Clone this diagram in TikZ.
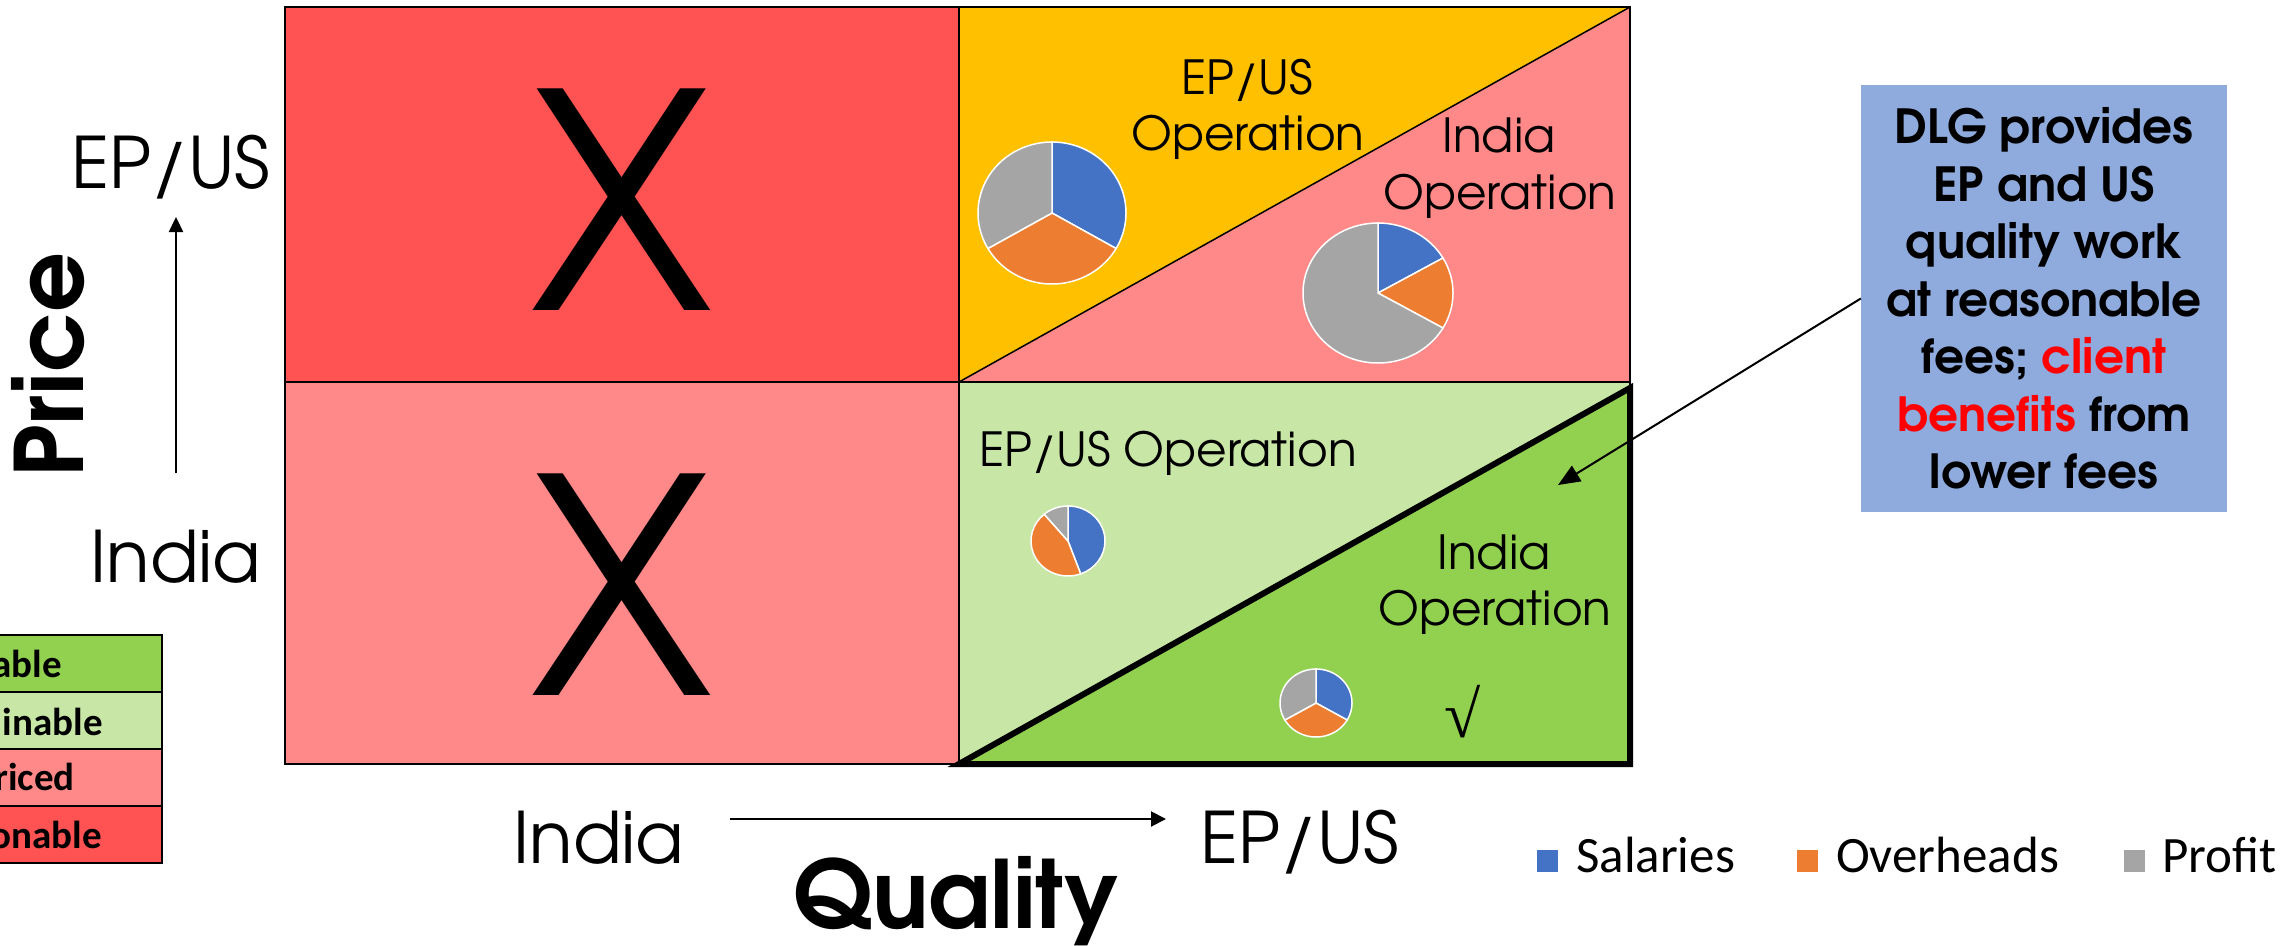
\documentclass[tikz,border=0pt]{standalone}
\usepackage{fontspec}
\setmainfont{texgyreadventor}[Extension=.otf, UprightFont=*-regular, BoldFont=*-bold]
\newfontfamily\calfont{Carlito}
\newfontfamily\symfont{Liberation Serif}
\usetikzlibrary{arrows.meta}
\definecolor{cred}{HTML}{FF5252}
\definecolor{cpink}{HTML}{FF8989}
\definecolor{cyellow}{HTML}{FFC000}
\definecolor{clgreen}{HTML}{C8E6A5}
\definecolor{cdgreen}{HTML}{92D050}
\definecolor{cbox}{HTML}{8FAADC}
\definecolor{pblue}{HTML}{4472C4}
\definecolor{porange}{HTML}{ED7D31}
\definecolor{pgrey}{HTML}{A5A5A5}
\definecolor{tred}{HTML}{FF0000}
\newcommand\pieslice[7]{\fill[#7, draw=white, line width=1.5] (#1,#2) -- ++({#5}:{#3} and {#4}) arc[start angle=#5, end angle=#6, x radius=#3, y radius=#4] -- cycle;}
\begin{document}
\begin{tikzpicture}[x=1pt,y=1pt,
  quad/.style={draw=black, line width=2},
  ax/.style={font=\fontsize{71}{84}\selectfont, inner sep=0},
  axbold/.style={font=\bfseries\fontsize{94}{110}\selectfont, inner sep=0},
  optext/.style={font=\fontsize{47}{57}\selectfont, inner sep=0},
  bigx/.style={font=\fontsize{300}{300}\selectfont, inner sep=0},
  arr/.style={line width=2.3, -{Triangle[length=15, width=14]}},
  legrow/.style={draw=black, line width=1.5},
  legtext/.style={font=\calfont\bfseries\fontsize{39}{42}\selectfont, inner sep=0, anchor=base east},
  keytext/.style={font=\calfont\fontsize{51}{60}\selectfont, inner sep=0, anchor=base west},
]
\useasboundingbox (0,0) rectangle (2296,-945);
\fill[white] (0,0) rectangle (2296,-945);
\clip (0,0) rectangle (2296,-945);

% quadrants
\fill[cred] (285,-7) rectangle (959,-382);
\draw[quad] (285,-7) rectangle (959,-382);
\fill[cpink] (285,-382) rectangle (959,-764);
\draw[quad] (285,-382) rectangle (959,-764);
% top right
\fill[cpink] (959,-7) rectangle (1630,-382);
\fill[cyellow] (959,-382) -- (959,-7) -- (1630,-7) -- cycle;
\draw[quad] (959,-7) rectangle (1630,-382);
\draw[line width=1.5] (959,-382) -- (1630,-7);
% bottom right
\fill[clgreen] (959,-382) rectangle (1630,-764);
\draw[quad] (959,-382) rectangle (1630,-764);
\fill[cdgreen] (959,-764) -- (1630,-388) -- (1630,-764) -- cycle;
\draw[line width=6, line join=miter] (959,-764) -- (1630,-388) -- (1630,-764) -- cycle;

% big X
\node[bigx, anchor=base] (x1) at (622,-310) {X};
\node[bigx, anchor=base] (x2) at (622,-695) {X};

% pies
\pieslice{1052}{-213}{74}{71}{90}{-30}{pblue}
\pieslice{1052}{-213}{74}{71}{-30}{-150}{porange}
\pieslice{1052}{-213}{74}{71}{-150}{-270}{pgrey}
\pieslice{1378}{-293}{75}{70}{90}{30}{pblue}
\pieslice{1378}{-293}{75}{70}{30}{-30}{porange}
\pieslice{1378}{-293}{75}{70}{-30}{-270}{pgrey}
\pieslice{1068}{-541}{37}{35}{90}{-70}{pblue}
\pieslice{1068}{-541}{37}{35}{-70}{-230}{porange}
\pieslice{1068}{-541}{37}{35}{-230}{-270}{pgrey}
\pieslice{1316}{-703}{36}{34}{90}{-30}{pblue}
\pieslice{1316}{-703}{36}{34}{-30}{-150}{porange}
\pieslice{1316}{-703}{36}{34}{-150}{-270}{pgrey}

% quadrant texts
\node[optext, anchor=base] (t1a) at (1247,-94) {EP/US};
\node[optext, anchor=base] (t1b) at (1248,-150) {Operation};
\node[optext, anchor=base] (t2a) at (1499,-152) {India};
\node[optext, anchor=base] (t2b) at (1500,-209) {Operation};
\node[optext, anchor=base] (t3) at (1168,-466) {EP/US Operation};
\node[optext, anchor=base] (t4a) at (1494,-569) {India};
\node[optext, anchor=base] (t4b) at (1495,-625) {Operation};
\node[font=\symfont\fontsize{66}{70}\selectfont, inner sep=0] (chk) at (1463,-712) {√};

% axes
\node[ax, anchor=base] (epusL) at (171,-188) {EP/US};
\node[ax, anchor=base] (indiaL) at (176,-582) {India};
\coordinate (va0) at (176,-473);
\coordinate (va1) at (176,-217);
\draw[arr] (va0) -- (va1);
\node[axbold, rotate=90, anchor=base] (price) at (83,-365) {Price};

\node[ax, anchor=base] (indiaB) at (599,-863) {India};
\node[ax, anchor=base] (epusB) at (1300,-863) {EP/US};
\coordinate (ha0) at (730,-819);
\coordinate (ha1) at (1166,-819);
\draw[line width=2, -{Triangle[length=15, width=15]}] (ha0) -- (ha1);
\node[axbold, anchor=base] (quality) at (956,-928) {Quality};

% DLG box
\node[fill=cbox, minimum width=366, minimum height=427, inner sep=0, align=center,
  font=\bfseries\fontsize{47}{57.5}\selectfont] (dlg) at (2044,-298.5)
  {DLG provides\\EP and US\\quality work\\at reasonable\\fees; \textcolor{tred}{client}\\\textcolor{tred}{benefits} from\\lower fees};
\coordinate (tip) at (1558,-485);
\draw[line width=2, -{Triangle[length=22, width=18]}] (dlg.west) -- (tip);

% left legend
\draw[legrow, fill=cdgreen] (-20,-635) rectangle (162,-692);
\draw[legrow, fill=clgreen] (-20,-692) rectangle (162,-749);
\draw[legrow, fill=cpink] (-20,-749) rectangle (162,-806);
\draw[legrow, fill=cred] (-20,-806) rectangle (162,-863);
\node[legtext] (l1) at (62,-677) {able};
\node[legtext] (l2) at (103,-735) {inable};
\node[legtext] (l3) at (75,-790) {riced};
\node[legtext] (l4) at (102,-848) {onable};

% pie key
\fill[pblue] (1537,-850) rectangle (1558,-872);
\node[keytext] (k1) at (1576,-872) {Salaries};
\fill[porange] (1797,-850) rectangle (1818,-872);
\node[keytext] (k2) at (1836,-872) {Overheads};
\fill[pgrey] (2124,-850) rectangle (2145,-872);
\node[keytext] (k3) at (2162,-872) {Profit};
\end{tikzpicture}
\end{document}
